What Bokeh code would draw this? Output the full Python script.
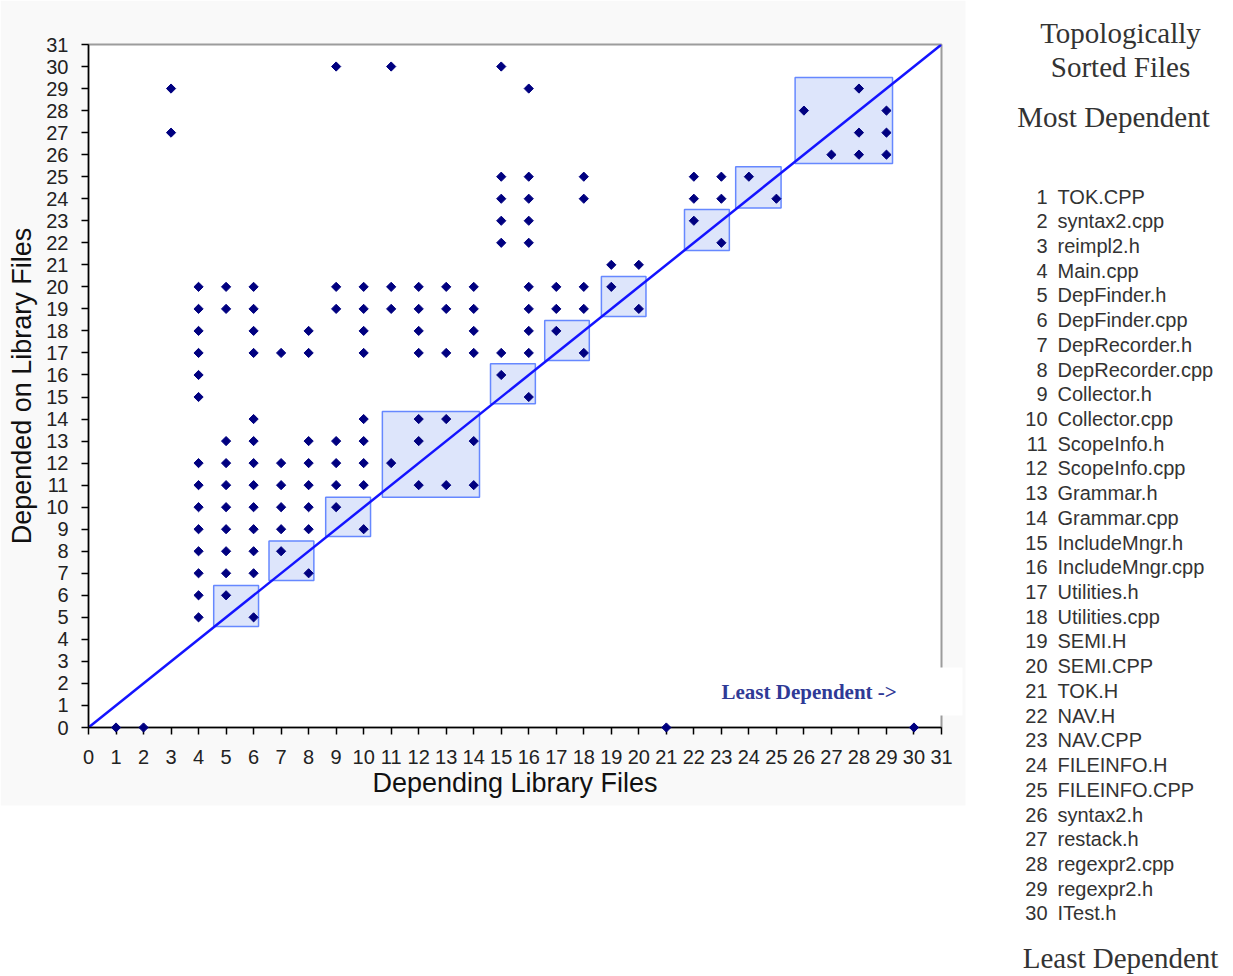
import math
from bokeh.plotting import figure
from bokeh.models import Range1d, FixedTicker, Label
from bokeh.embed import file_html
from bokeh.resources import INLINE
from bokeh.core.properties import value

# ---------------- data ----------------
chart_title = "DepAnal Version 1.7.a"
x_title = "Depending Library Files"
y_title = "Depended on Library Files"
note_text = "Least Dependent ->"
tick_values = list(range(0, 32))

# dependency points: depending file (x) -> depended-on file (y)
depending_file = (
    [1] + [2] + [3, 3]
    + [4] * 14 + [5] * 10 + [6] * 13 + [7] * 6 + [8] * 8 + [9] * 7
    + [10] * 9 + [11] * 4 + [12] * 7 + [13] * 5 + [14] * 6 + [15] * 7
    + [16] * 10 + [17] * 3 + [18] * 5 + [19] * 2 + [20] * 2 + [21]
    + [22] * 3 + [23] * 3 + [24] + [25] + [26] + [27] + [28] * 3 + [29] * 3 + [30]
)
depended_on_file = (
    [0] + [0] + [29, 27]
    + [20, 19, 18, 17, 16, 15, 12, 11, 10, 9, 8, 7, 6, 5]
    + [20, 19, 13, 12, 11, 10, 9, 8, 7, 6]
    + [20, 19, 18, 17, 14, 13, 12, 11, 10, 9, 8, 7, 5]
    + [17, 12, 11, 10, 9, 8]
    + [18, 17, 13, 12, 11, 10, 9, 7]
    + [30, 20, 19, 13, 12, 11, 10]
    + [20, 19, 18, 17, 14, 13, 12, 11, 9]
    + [30, 20, 19, 12]
    + [20, 19, 18, 17, 14, 13, 11]
    + [20, 19, 17, 14, 11]
    + [20, 19, 18, 17, 13, 11]
    + [30, 25, 24, 23, 22, 17, 16]
    + [29, 25, 24, 23, 22, 20, 19, 18, 17, 15]
    + [20, 19, 18]
    + [25, 24, 20, 19, 17]
    + [21, 20]
    + [21, 19]
    + [0]
    + [25, 24, 23]
    + [25, 24, 22]
    + [25]
    + [24]
    + [28]
    + [26]
    + [29, 27, 26]
    + [28, 27, 26]
    + [0]
)

# shaded cycle blocks (as drawn)
block_left = [4.55, 6.56, 8.62, 10.68, 14.61, 16.58, 18.64, 21.66, 23.52, 25.68]
block_right = [6.18, 8.19, 10.25, 14.21, 16.24, 18.20, 20.26, 23.29, 25.17, 29.22]
block_bottom = [4.58, 6.67, 8.67, 10.45, 14.70, 16.66, 18.65, 21.65, 23.58, 25.60]
block_top = [6.45, 8.47, 10.45, 14.34, 16.51, 18.47, 20.47, 23.51, 25.45, 29.50]

diag_x = [0, 31]
diag_y = [0, 31]

file_rank = [1, 2, 3, 4, 5, 6, 7, 8, 9, 10, 11, 12, 13, 14, 15,
             16, 17, 18, 19, 20, 21, 22, 23, 24, 25, 26, 27, 28, 29, 30]
file_names = ["TOK.CPP", "syntax2.cpp", "reimpl2.h", "Main.cpp", "DepFinder.h",
              "DepFinder.cpp", "DepRecorder.h", "DepRecorder.cpp", "Collector.h",
              "Collector.cpp", "ScopeInfo.h", "ScopeInfo.cpp", "Grammar.h",
              "Grammar.cpp", "IncludeMngr.h", "IncludeMngr.cpp", "Utilities.h",
              "Utilities.cpp", "SEMI.H", "SEMI.CPP", "TOK.H", "NAV.H", "NAV.CPP",
              "FILEINFO.H", "FILEINFO.CPP", "syntax2.h", "restack.h",
              "regexpr2.cpp", "regexpr2.h", "ITest.h"]
panel_headers = ["Topologically", "Sorted Files", "Most Dependent"]
panel_footer = "Least Dependent"

# ---------------- figure / layout ----------------
SANS = "Liberation Sans"
SERIF = "Liberation Serif"
W, H = 1233, 976
FL, FR, FT, FB = 88, 941, 44, 727  # frame edges in page pixels

p = figure(width=W, height=H, title=None,
           x_range=Range1d(0, 31), y_range=Range1d(0, 31),
           toolbar_location=None, output_backend="svg",
           min_border_left=FL, min_border_right=W - FR,
           min_border_top=FT, min_border_bottom=H - FB)
# pixel-coordinate ranges for page furniture (texts, backdrops)
p.extra_x_ranges = {"px": Range1d(FL, FR)}
p.extra_y_ranges = {"py": Range1d(FB, FT)}

p.background_fill_color = "white"
p.border_fill_color = "#f9f9f9"
p.outline_line_color = "#9c9c9c"
p.outline_line_width = 2
p.xgrid.visible = False
p.ygrid.visible = False

for ax in (p.xaxis[0], p.yaxis[0]):
    ax.ticker = FixedTicker(ticks=tick_values)
    ax.axis_line_color = "black"
    ax.axis_line_width = 1.5
    ax.major_tick_line_color = "black"
    ax.major_tick_line_width = 1.5
    ax.major_tick_out = 7
    ax.major_tick_in = 0
    ax.minor_tick_out = 0
    ax.minor_tick_in = 0
    ax.major_label_text_font = SANS
    ax.major_label_text_font_size = "20px"
    ax.major_label_text_color = "#222222"
    ax.axis_label_text_font = SANS
    ax.axis_label_text_font_size = "27px"
    ax.axis_label_text_font_style = "normal"
    ax.axis_label_text_color = "#111111"

p.xaxis.axis_label = x_title
p.yaxis.axis_label = y_title
p.xaxis.major_label_standoff = 15
p.yaxis.major_label_standoff = 13
p.xaxis.axis_label_standoff = 1
p.yaxis.axis_label_standoff = 6

# white page area outside the chart backdrop
bg = p.quad(left=[965, -5], right=[W + 5, W + 5], top=[-5, 805], bottom=[H + 5, H + 5],
            fill_color="white", line_color=None, x_range_name="px", y_range_name="py")
bg.level = "overlay"

p.quad(left=block_left, right=block_right, bottom=block_bottom, top=block_top,
       fill_color="#dde5fb", line_color="#6688ff", line_width=1.5)
p.line(diag_x, diag_y, line_color="#1414ff", line_width=2.5)

pts = p.scatter(depending_file, depended_on_file, marker="square", angle=math.pi / 4,
                size=6.5, fill_color="#000080", line_color="#000080")
pts.level = "overlay"

# white note box with "Least Dependent ->"
note_box = p.quad(left=[700], right=[962], top=[667], bottom=[715],
                  fill_color="white", line_color=None,
                  x_range_name="px", y_range_name="py")
note_box.level = "overlay"
p.add_layout(Label(x=721, y=691, text=note_text, text_align="left",
                   text_baseline="middle", text_font=SERIF, text_font_style="bold",
                   text_font_size="21px", text_color="#2f3a96", level="overlay",
                   x_range_name="px", y_range_name="py"))

p.add_layout(Label(x=452, y=20, text=chart_title, text_align="center",
                   text_baseline="middle", text_font=SANS, text_font_size="20px",
                   text_color="#222222", level="overlay",
                   x_range_name="px", y_range_name="py"))

# ---------------- right panel (topologically sorted list) ----------------
row_y = [196 + i * 24.72 for i in range(len(file_names))]
t1 = p.text(x=[1047] * len(file_rank), y=row_y, text=[str(r) for r in file_rank],
            text_align="right", text_baseline="middle", text_font=value(SANS),
            text_font_size="20px", text_color="#333333",
            x_range_name="px", y_range_name="py")
t2 = p.text(x=[1057] * len(file_names), y=row_y, text=file_names,
            text_align="left", text_baseline="middle", text_font=value(SANS),
            text_font_size="20px", text_color="#333333",
            x_range_name="px", y_range_name="py")
t3 = p.text(x=[1120, 1120, 1113], y=[32, 66, 116], text=panel_headers,
            text_align="center", text_baseline="middle", text_font=value(SERIF),
            text_font_size="29px", text_color="#333333",
            x_range_name="px", y_range_name="py")
t4 = p.text(x=[1120], y=[957], text=[panel_footer], text_align="center",
            text_baseline="middle", text_font=value(SERIF),
            text_font_size="29px", text_color="#333333",
            x_range_name="px", y_range_name="py")
for r in (t1, t2, t3, t4):
    r.level = "overlay"

open("out.html", "w").write(file_html(p, INLINE))
